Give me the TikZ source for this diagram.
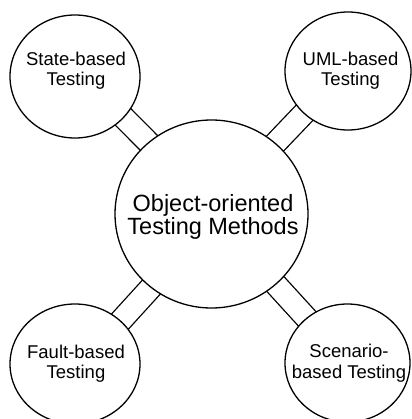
\documentclass[tikz,border=0pt]{standalone}
\usepackage{fontspec}
\setmainfont{Liberation Sans}
\usetikzlibrary{shapes.geometric}
\begin{document}
\begin{tikzpicture}[x=1pt,y=-1pt,
  bub/.style={ellipse, draw, fill=white, line width=1.3pt, inner sep=0pt},
  strip/.style={draw, line width=1.3pt, double=white, double distance=21.2pt},
  lab/.style={align=center, font={\fontsize{18.5}{20.5}\selectfont}, inner sep=0pt},
  biglab/.style={align=center, font={\fontsize{23.5}{23.3}\selectfont}, inner sep=0pt}]
\fill[white] (0,0) rectangle (411,419);
\useasboundingbox (0,0) rectangle (411,419);
% centres
\coordinate (cC) at (211.5,214);
\coordinate (cTL) at (75,76.5);
\coordinate (cTR) at (348,71);
\coordinate (cBL) at (75,364);
\coordinate (cBR) at (347.5,363);
% strips
\draw[strip] ([shift={(4,-4)}]cTL) -- ([shift={(4,-4)}]cC);
\draw[strip] ([shift={(0,-3.8)}]cTR) -- ([shift={(0,-3.8)}]cC);
\draw[strip] ([shift={(0,7)}]cBL) -- ([shift={(0,7)}]cC);
\draw[strip] (cBR) -- (cC);
% bubbles
\node[bub, minimum width=193pt, minimum height=188pt] (C) at (cC) {};
\node[bub, minimum width=130pt, minimum height=123pt] (TL) at (cTL) {};
\node[bub, minimum width=126pt, minimum height=118pt] (TR) at (cTR) {};
\node[bub, minimum width=130pt, minimum height=120pt] (BL) at (cBL) {};
\node[bub, minimum width=125pt, minimum height=118pt] (BR) at (cBR) {};
% labels
\node[biglab] (Ct) at (213,217.2) {Object-oriented\\Testing Methods};
\node[lab] (TLt) at (76,70.6) {State-based\\Testing};
\node[lab] (TRt) at (350.5,70.6) {UML-based\\Testing};
\node[lab] (BLt) at (76,363.9) {Fault-based\\Testing};
\node[lab] (BRt) at (349,363.3) {Scenario-\\based Testing};
\end{tikzpicture}
\end{document}
